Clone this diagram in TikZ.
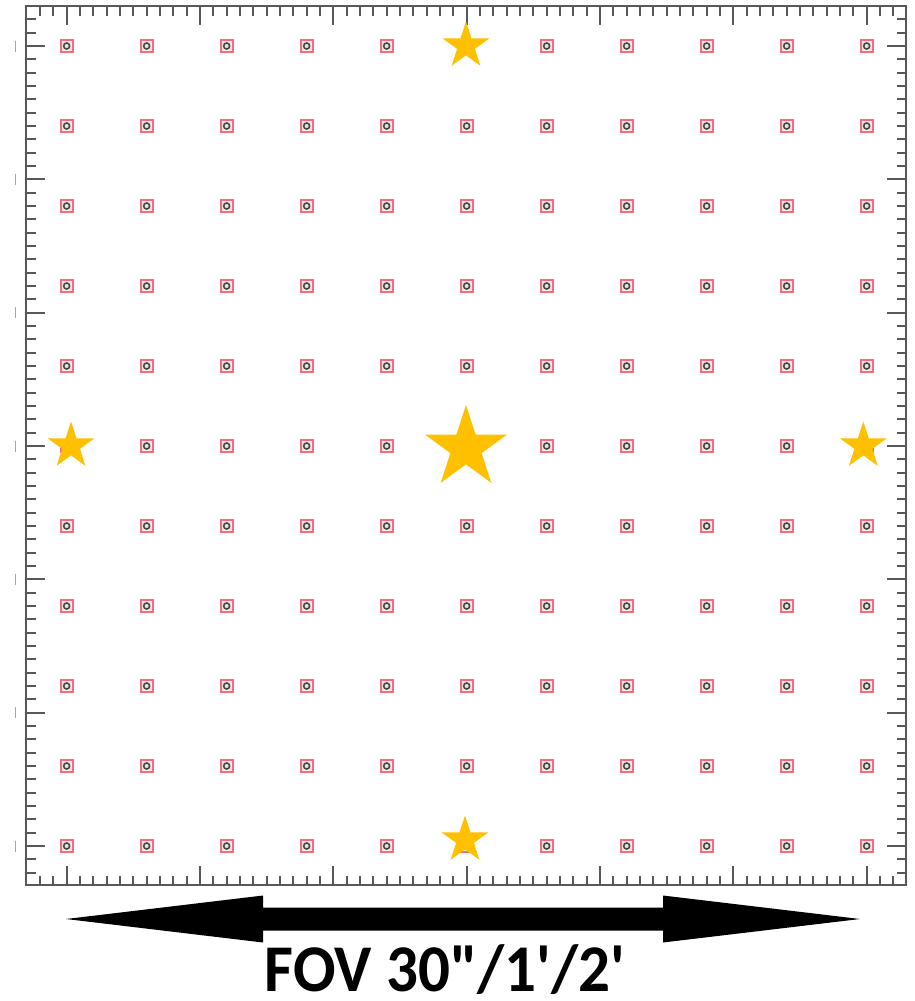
\documentclass[tikz,border=0pt]{standalone}
\usepackage{fontspec}
\newfontfamily\fovfont{Carlito}
\usetikzlibrary{shapes.geometric}
\definecolor{starfill}{RGB}{255,192,0}
\definecolor{axisgray}{RGB}{88,88,88}
\definecolor{markred}{RGB}{240,112,118}
\definecolor{coregray}{RGB}{70,70,70}
\begin{document}
\begin{tikzpicture}[x=1pt,y=-1pt,
  frame/.style={draw=axisgray,line width=2.2pt},
  tick/.style={draw=axisgray,line width=2pt},
  faint/.style={draw=black!35,line width=1pt},
  marker/.style={rectangle,draw=markred,line width=2.3pt,minimum size=12pt,inner sep=0pt,fill=markred!15},
  core/.style={circle,draw=coregray,line width=1.6pt,fill=black!10,minimum size=6pt,inner sep=0pt},
  smallstar/.style={star,star points=5,star point ratio=2.618,inner sep=0pt,minimum size=49pt,fill=starfill,draw=none},
  bigstar/.style={star,star points=5,star point ratio=2.618,inner sep=0pt,minimum size=86pt,fill=starfill,draw=none},
  fovarrow/.style={fill=black},
  fovlabel/.style={font=\fovfont\bfseries\fontsize{63}{63}\selectfont,anchor=base,inner sep=0pt}]
\useasboundingbox (0,0) rectangle (915,1001);
\fill[white] (0,0) rectangle (915,1001);
% ticks
\foreach \k in {0,...,64}{
  \pgfmathsetmacro\tx{40+13.33333*\k}
  \pgfmathsetmacro\ty{19.33333+13.33333*\k}
  \pgfmathsetmacro\len{mod(\k,10)==2 ? 19 : 9.5}
  \draw[tick] (\tx,6) -- ++(0,\len);
  \draw[tick] (\tx,885) -- ++(0,-\len);
  \draw[tick] (26,\ty) -- ++(\len,0);
  \draw[tick] (906,\ty) -- ++(-\len,0);
}
\draw[frame] (26,6) rectangle (906,885);
% faint outside marks
\foreach \j in {0,...,6}{
  \draw[faint] (15,{46+133.3333*\j-5.5}) -- ++(0,11);
}
% markers
\foreach \i in {0,...,10}{
  \foreach \j in {0,...,10}{
    \node[marker] (m-\i-\j) at ({66.667+80*\i},{46+80*\j}) {};
    \node[core] (c-\i-\j) at (m-\i-\j) {};
  }
}
% stars
\node[smallstar] (sT) at (466,46) {};
\node[smallstar] (sB) at (465,840) {};
\node[smallstar] (sL) at (71,446) {};
\node[smallstar] (sR) at (863.3,446) {};
\node[bigstar] (sC) at (466,448) {};
% arrow
\coordinate (aL) at (66,919);
\coordinate (aR) at (860,919);
\fill[fovarrow] (aL) -- (263,895.5) -- (263,907.5) -- (663,907.5) -- (663,895.5)
  -- (aR) -- (663,942.5) -- (663,930.5) -- (263,930.5) -- (263,942.5) -- cycle;
% label
\node[fovlabel] (fov) at (445,991) {\scalebox{1}[1.06]{FOV 30"/1'/2'}};
\end{tikzpicture}
\end{document}
